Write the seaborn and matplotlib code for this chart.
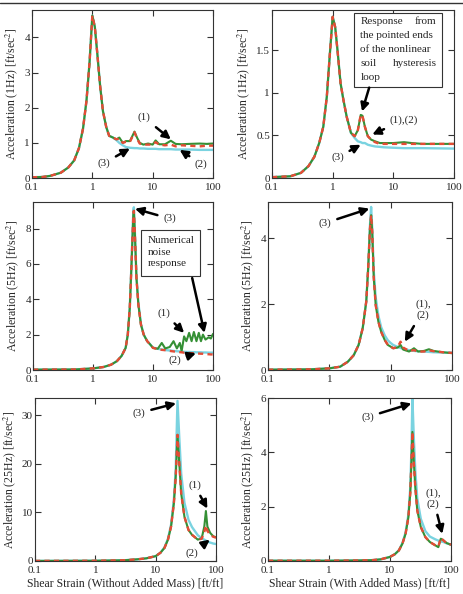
import numpy as np
import pandas as pd
import matplotlib
matplotlib.use("Agg")
import matplotlib.pyplot as plt
import seaborn as sns
from matplotlib.patches import Rectangle
from matplotlib.lines import Line2D
from matplotlib.ticker import FixedLocator, NullLocator

# ---- data ----
# panel 1: 1Hz, without added mass
x_1hz = [0.1, 0.15, 0.2, 0.3, 0.4, 0.5, 0.6, 0.7, 0.8, 0.9,
         1.0, 1.1, 1.2, 1.35, 1.5, 1.7, 1.9, 2.2, 2.5, 2.8,
         3.2, 3.6, 4.2, 5.0, 5.5, 6.1, 7.0, 8.4, 10, 11.2,
         12.8, 16, 20, 24, 30, 40, 60, 80, 100]
a_1hz_g = [0.02, 0.03, 0.06, 0.15, 0.3, 0.5, 0.85, 1.4, 2.2, 3.3,
           4.62, 4.3, 3.6, 2.6, 1.9, 1.45, 1.2, 1.15, 1.1, 1.15,
           1.0, 1.05, 1.05, 1.32, 1.15, 1.0, 0.95, 0.98, 0.95, 1.07,
           0.96, 0.96, 1.06, 0.97, 0.96, 0.97, 0.98, 0.97, 0.98]
a_1hz_r = [0.02, 0.03, 0.06, 0.15, 0.3, 0.5, 0.85, 1.4, 2.2, 3.3,
           4.62, 4.3, 3.6, 2.6, 1.9, 1.45, 1.2, 1.15, 1.1, 1.12,
           1.0, 1.03, 1.03, 1.3, 1.12, 0.98, 0.95, 0.95, 0.95, 1.02,
           0.95, 0.93, 0.95, 0.9, 0.93, 0.92, 0.9, 0.92, 0.92]
a_1hz_c = [0.02, 0.03, 0.06, 0.15, 0.3, 0.5, 0.85, 1.4, 2.2, 3.3,
           4.62, 4.3, 3.6, 2.6, 1.9, 1.45, 1.2, 1.15, 1.08, 1.0,
           0.93, 0.88, 0.86, 0.85, 0.85, 0.84, 0.84, 0.83, 0.83, 0.83,
           0.82, 0.82, 0.82, 0.81, 0.81, 0.81, 0.8, 0.8, 0.8]

# panel 2: 1Hz, with added mass
x_1hz_m = [0.1, 0.2, 0.3, 0.4, 0.5, 0.6, 0.7, 0.8, 0.9, 1.0,
           1.1, 1.2, 1.35, 1.5, 1.7, 2.0, 2.3, 2.6, 2.9, 3.1,
           3.4, 3.8, 4.3, 5, 6, 7, 10, 15, 20, 30, 100]
a_1hz_m_g = [0.01, 0.02, 0.06, 0.14, 0.25, 0.41, 0.6, 0.95, 1.46, 1.89,
             1.77, 1.5, 1.11, 0.92, 0.72, 0.53, 0.49, 0.56, 0.74, 0.73,
             0.6, 0.49, 0.45, 0.43, 0.41, 0.41, 0.41, 0.42, 0.41, 0.4, 0.4]
a_1hz_m_r = [0.01, 0.02, 0.06, 0.14, 0.25, 0.41, 0.6, 0.95, 1.46, 1.89,
             1.77, 1.5, 1.11, 0.92, 0.72, 0.53, 0.49, 0.56, 0.74, 0.73,
             0.6, 0.49, 0.45, 0.42, 0.4, 0.4, 0.4, 0.4, 0.4, 0.4, 0.4]
a_1hz_m_c = [0.01, 0.02, 0.06, 0.14, 0.25, 0.41, 0.6, 0.95, 1.46, 1.89,
             1.77, 1.5, 1.11, 0.92, 0.72, 0.53, 0.47, 0.43, 0.42, 0.41,
             0.41, 0.39, 0.38, 0.37, 0.365, 0.36, 0.355, 0.35, 0.35, 0.35, 0.345]

# panel 3: 5Hz, without added mass
x_5hz = [0.1, 0.5, 1.0, 1.5, 2.0, 2.5, 3.0, 3.5, 3.8, 4.1,
         4.4, 4.7, 4.8, 5.0, 5.3, 5.7, 6.3, 7, 8, 9,
         10, 12, 14, 16, 19, 22, 25, 28, 30, 33,
         36, 40, 44, 48, 53, 58, 63, 68, 75, 85,
         92, 100]
a_5hz_g = [0.02, 0.03, 0.09, 0.17, 0.3, 0.5, 0.8, 1.25, 2.0, 3.5,
           6.1, 8.75, 9.0, 7.6, 5.2, 3.7, 2.56, 2.0, 1.63, 1.44,
           1.25, 1.2, 1.53, 1.22, 1.3, 1.63, 1.22, 1.53, 1.07, 1.9,
           1.63, 2.1, 1.63, 2.15, 1.63, 2.1, 1.63, 2.0, 1.72, 1.85,
           1.78, 2.04]
a_5hz_r = [0.02, 0.03, 0.09, 0.17, 0.3, 0.5, 0.8, 1.25, 2.0, 3.5,
           6.1, 8.75, 9.0, 7.6, 5.2, 3.7, 2.56, 2.0, 1.63, 1.44,
           1.25, 1.18, 1.14, 1.12, 1.08, 1.05, 1.03, 1.01, 1.0, 0.98,
           0.97, 0.96, 0.95, 0.95, 0.94, 0.93, 0.92, 0.92, 0.9, 0.89,
           0.88, 0.88]
a_5hz_c = [0.02, 0.03, 0.09, 0.17, 0.3, 0.5, 0.8, 1.25, 2.0, 3.5,
           6.2, 9.0, 9.2, 7.7, 5.3, 3.8, 2.6, 2.0, 1.63, 1.44,
           1.27, 1.2, 1.16, 1.13, 1.1, 1.08, 1.06, 1.05, 1.04, 1.03,
           1.02, 1.02, 1.01, 1.01, 1.0, 1.0, 1.0, 0.99, 0.99, 0.98,
           0.98, 0.98]

# panel 4: 5Hz, with added mass
x_5hz_m = [0.1, 0.5, 1.0, 1.5, 2.0, 2.5, 3.0, 3.5, 4.0, 4.3,
           4.6, 4.8, 5.0, 5.3, 5.7, 6.3, 7, 8, 9, 10,
           11, 13, 14.5, 16, 20, 24, 28, 35, 42, 50,
           70, 100]
a_5hz_m_g = [0.01, 0.02, 0.05, 0.1, 0.25, 0.45, 0.76, 1.27, 2.08, 3.1,
             4.3, 4.7, 4.2, 2.8, 1.97, 1.47, 1.16, 0.91, 0.76, 0.71,
             0.66, 0.68, 0.76, 0.62, 0.56, 0.66, 0.56, 0.58, 0.63, 0.58,
             0.54, 0.51]
a_5hz_m_r = [0.01, 0.02, 0.05, 0.1, 0.25, 0.45, 0.76, 1.27, 2.08, 3.1,
             4.3, 4.7, 4.2, 2.8, 1.97, 1.47, 1.16, 0.91, 0.76, 0.71,
             0.66, 0.7, 0.86, 0.68, 0.58, 0.6, 0.56, 0.56, 0.6, 0.57,
             0.54, 0.52]
a_5hz_m_c = [0.01, 0.02, 0.05, 0.1, 0.25, 0.45, 0.76, 1.27, 2.08, 3.1,
             4.4, 4.95, 4.3, 3.0, 2.2, 1.65, 1.3, 1.05, 0.9, 0.82,
             0.76, 0.7, 0.67, 0.64, 0.6, 0.58, 0.57, 0.56, 0.55, 0.54,
             0.53, 0.53]

# panel 5: 25Hz, without added mass
x_25hz = [0.1, 1, 3, 5, 7, 10, 12, 14, 16, 18,
          20, 21.5, 23, 24.5, 26.5, 30, 35, 40, 50, 58,
          64, 68, 72, 80, 90, 100]
a_25hz_g = [0.02, 0.05, 0.15, 0.35, 0.55, 1.0, 1.7, 2.7, 4.4, 7.1,
            11.8, 17.3, 26.0, 20.6, 13.9, 9.1, 6.4, 5.4, 4.4, 4.7,
            7.1, 10.3, 7.1, 5.8, 5.1, 4.9]
a_25hz_r = [0.02, 0.05, 0.15, 0.35, 0.55, 1.0, 1.7, 2.7, 4.4, 7.1,
            11.8, 17.3, 26.0, 20.6, 13.9, 9.1, 6.4, 5.4, 4.4, 4.6,
            6.0, 7.3, 6.2, 5.4, 5.0, 4.8]
a_25hz_c = [0.02, 0.05, 0.15, 0.35, 0.55, 1.0, 1.7, 2.8, 4.6, 7.5,
            12.5, 19.0, 33.0, 26.0, 18.0, 12.0, 8.5, 7.0, 5.3, 4.7,
            4.4, 4.2, 4.0, 3.8, 3.6, 3.5]

# panel 6: 25Hz, with added mass
x_25hz_m = [0.1, 1, 3, 5, 7, 10, 12, 14, 16, 18,
            20, 21.5, 22.5, 23.3, 24.5, 26, 28, 32, 38, 45,
            55, 62, 68, 75, 85, 100]
a_25hz_m_g = [0.01, 0.01, 0.02, 0.03, 0.06, 0.15, 0.25, 0.39, 0.64, 1.0,
              1.6, 2.5, 3.7, 4.75, 3.7, 2.7, 1.86, 1.25, 0.88, 0.7,
              0.58, 0.51, 0.82, 0.76, 0.66, 0.6]
a_25hz_m_r = [0.01, 0.01, 0.02, 0.03, 0.06, 0.15, 0.25, 0.39, 0.64, 1.0,
              1.6, 2.5, 3.7, 4.75, 3.7, 2.7, 1.86, 1.25, 0.88, 0.7,
              0.58, 0.53, 0.85, 0.76, 0.65, 0.6]
a_25hz_m_c = [0.01, 0.01, 0.02, 0.03, 0.06, 0.15, 0.25, 0.4, 0.66, 1.05,
              1.7, 2.7, 4.2, 6.0, 4.6, 3.3, 2.3, 1.55, 1.1, 0.9,
              0.8, 0.75, 0.72, 0.7, 0.65, 0.6]

x_ticks = [0.1, 1, 10, 100]
x_tick_labels = ["0.1", "1", "10", "100"]

# ---- style ----
sns.set_style("ticks")
plt.rcParams["font.family"] = ["Liberation Serif", "DejaVu Serif"]
plt.rcParams["mathtext.fontset"] = "stix"
plt.rcParams["font.size"] = 8

GREEN = "#359035"
RED = "#e44c35"
CYAN = "#7ad3e0"
EDGE = "#333333"

fig = plt.figure(figsize=(4.64, 5.94), dpi=100)
fig.add_artist(Line2D([0, 1], [1 - 2.5 / 594, 1 - 2.5 / 594], color=EDGE, lw=1.0))


def px_axes(x0, x1, y0, y1):
    # pixel box (left, right, top, bottom) -> figure fraction
    return fig.add_axes([x0 / 464, (594 - y1) / 594, (x1 - x0) / 464, (y1 - y0) / 594])


def draw_panel(ax, x, g, r, c, ylim, yticks, yticklabels, ylabel, xlabel=None):
    sns.lineplot(x=x, y=c, ax=ax, color=CYAN, lw=1.7)
    sns.lineplot(x=x, y=g, ax=ax, color=GREEN, lw=1.5)
    sns.lineplot(x=x, y=r, ax=ax, color=RED, lw=1.7, linestyle=(0, (2.2, 1.8)))
    ax.set_xscale("log")
    ax.set_xlim(0.1, 100)
    ax.set_ylim(*ylim)
    ax.xaxis.set_major_locator(FixedLocator(x_ticks))
    ax.xaxis.set_minor_locator(NullLocator())
    ax.set_xticklabels(x_tick_labels)
    ax.set_yticks(yticks)
    ax.set_yticklabels(yticklabels)
    ax.tick_params(direction="in", top=True, right=True, length=4, width=0.8,
                   color=EDGE, labelsize=8)
    ax.tick_params(axis="x", pad=3.5)
    ax.tick_params(axis="y", pad=1.5)
    for s in ax.spines.values():
        s.set_color(EDGE)
        s.set_linewidth(0.8)
    ax.set_ylabel(ylabel, fontsize=8.5, labelpad=3)
    ax.set_xlabel(xlabel if xlabel else "", fontsize=8.5, labelpad=1.5)


def arrow(ax, text, xy, xytext, ha="center"):
    ax.annotate(text, xy=xy, xytext=xytext, textcoords="data", fontsize=8,
                ha=ha, va="center",
                arrowprops=dict(arrowstyle="-|>", color="black", lw=1.8,
                                mutation_scale=12, shrinkA=2, shrinkB=0))


def boxed(ax, x0, x1, y0, y1):
    ax.add_patch(Rectangle((x0, y0), x1 - x0, y1 - y0, transform=ax.transAxes,
                           facecolor="white", edgecolor=EDGE, lw=0.8, zorder=5))


ax1 = px_axes(32, 213, 10, 178)
draw_panel(ax1, x_1hz, a_1hz_g, a_1hz_r, a_1hz_c, (0, 4.78), [0, 1, 2, 3, 4],
           ["0", "1", "2", "3", "4"], "Acceleration (1Hz) [ft/sec$^2$]")
arrow(ax1, "(1)", (20, 1.1), (7.2, 1.72))
arrow(ax1, "(3)", (4.2, 0.84), (1.55, 0.42))
arrow(ax1, "(2)", (28, 0.8), (64, 0.4))

ax2 = px_axes(272, 454, 10, 178)
draw_panel(ax2, x_1hz_m, a_1hz_m_g, a_1hz_m_r, a_1hz_m_c, (0, 1.97), [0, 0.5, 1, 1.5],
           ["0", "0.5", "1", "1.5"], "Acceleration (1Hz) [ft/sec$^2$]")
arrow(ax2, "(1),(2)", (4.5, 0.51), (15, 0.68))
arrow(ax2, "(3)", (2.9, 0.39), (1.2, 0.24))
boxed(ax2, 0.45, 0.935, 0.54, 0.98)
ax2.annotate("", xy=(3.05, 0.78), xytext=(4.0, 1.06), textcoords="data",
             arrowprops=dict(arrowstyle="-|>", color="black", lw=1.8,
                             mutation_scale=12, shrinkA=0, shrinkB=0), zorder=6)
box_lines = [("Response", "from"), ("the pointed ends", None), ("of the nonlinear", None),
             ("soil", "hysteresis"), ("loop", None)]
for i, (left, right) in enumerate(box_lines):
    yy = 0.93 - i * 0.083
    ax2.text(0.485, yy, left, transform=ax2.transAxes, ha="left", va="center",
             fontsize=8, zorder=6)
    if right:
        ax2.text(0.905, yy, right, transform=ax2.transAxes, ha="right", va="center",
                 fontsize=8, zorder=6)

ax3 = px_axes(33, 213, 202, 370)
draw_panel(ax3, x_5hz, a_5hz_g, a_5hz_r, a_5hz_c, (0, 9.5), [0, 2, 4, 6, 8],
           ["0", "2", "4", "6", "8"], "Acceleration (5Hz) [ft/sec$^2$]")
arrow(ax3, "(3)", (5.0, 9.12), (19, 8.56))
arrow(ax3, "(1)", (33, 2.1), (15.5, 3.2))
arrow(ax3, "(2)", (52, 0.95), (23, 0.55))
boxed(ax3, 0.60, 0.93, 0.56, 0.835)
ax3.text(0.635, 0.70, "Numerical\nnoise\nresponse", transform=ax3.transAxes,
         ha="left", va="center", fontsize=8, linespacing=1.35, zorder=6)
ax3.annotate("", xy=(72, 2.1), xytext=(45, 5.2), textcoords="data",
             arrowprops=dict(arrowstyle="-|>", color="black", lw=1.8,
                             mutation_scale=12, shrinkA=0, shrinkB=0), zorder=6)

ax4 = px_axes(268, 452, 202, 370)
draw_panel(ax4, x_5hz_m, a_5hz_m_g, a_5hz_m_r, a_5hz_m_c, (0, 5.1), [0, 2, 4],
           ["0", "2", "4"], "Acceleration (5Hz) [ft/sec$^2$]")
arrow(ax4, "(3)", (4.5, 4.9), (0.85, 4.46))
arrow(ax4, "(1),\n(2)", (17, 0.86), (34, 1.82))

ax5 = px_axes(35, 216, 398, 561)
draw_panel(ax5, x_25hz, a_25hz_g, a_25hz_r, a_25hz_c, (0, 33.6), [0, 10, 20, 30],
           ["0", "10", "20", "30"], "Acceleration (25Hz) [ft/sec$^2$]",
           "Shear Strain (Without Added Mass) [ft/ft]")
arrow(ax5, "(3)", (21.8, 32.5), (5.3, 30.5))
arrow(ax5, "(1)", (72, 10.8), (44, 15.6))
arrow(ax5, "(2)", (79, 4.4), (40, 1.6))

ax6 = px_axes(268, 451, 398, 561)
draw_panel(ax6, x_25hz_m, a_25hz_m_g, a_25hz_m_r, a_25hz_m_c, (0, 6), [0, 2, 4, 6],
           ["0", "2", "4", "6"], "Acceleration (25Hz) [ft/sec$^2$]",
           "Shear Strain (With Added Mass) [ft/ft]")
arrow(ax6, "(3)", (22.5, 5.8), (4.3, 5.3))
arrow(ax6, "(1),\n(2)", (72, 1.0), (51, 2.3))

fig.savefig("out.png", dpi=100)
